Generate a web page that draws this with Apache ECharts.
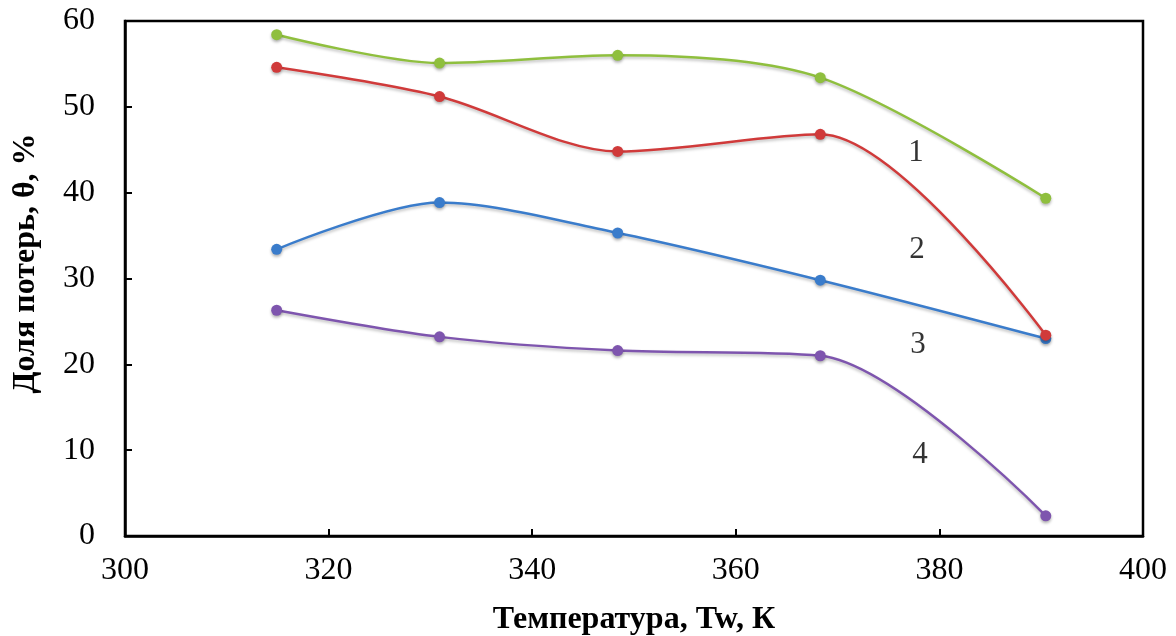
<!DOCTYPE html>
<html>
<head>
<meta charset="utf-8">
<script src="https://cdn.jsdelivr.net/npm/echarts@6/dist/echarts.min.js"></script>
<style>
html,body{margin:0;padding:0;background:#fff;}
#c{width:1176px;height:636px;}
</style>
</head>
<body>
<div id="c"></div>
<script>
// Temperature values (x) for each measured point
const temperatures = [314.9, 330.9, 348.4, 368.3, 390.45];
// Series values (loss share, %)
const curve1 = [58.4, 55.1, 56.0, 53.4, 39.35];
const curve2 = [54.6, 51.2, 44.8, 46.8, 23.4];
const curve3 = [33.4, 38.85, 35.3, 29.8, 23.0];
const curve4 = [26.3, 23.2, 21.6, 21.0, 2.35];
// Curve number annotations (data coordinates)
const curveLabels = ['1', '2', '3', '4'];
const curveLabelX = [377.7, 377.8, 377.9, 378.1];
const curveLabelY = [44.6, 33.3, 22.3, 9.4];
// Axis ticks
const xTicks = [300, 320, 340, 360, 380, 400];
const yTicks = [0, 10, 20, 30, 40, 50, 60];

const colors = ['#8FBF3E', '#D03A3A', '#3A7CCB', '#7E55AE'];
const seriesValues = [curve1, curve2, curve3, curve4];
const FONT = '"Liberation Serif", "Times New Roman", serif';

const chart = echarts.init(document.getElementById('c'));

const lineSeries = seriesValues.map((vals, i) => ({
  type: 'line',
  name: curveLabels[i],
  data: vals.map((v, j) => [temperatures[j], v]),
  smooth: 0.3,
  symbol: 'circle',
  symbolSize: 11,
  showSymbol: true,
  lineStyle: {color: colors[i], width: 2.5, shadowColor: 'rgba(0,0,0,0.25)', shadowBlur: 3, shadowOffsetY: 2},
  itemStyle: {color: colors[i], shadowColor: 'rgba(0,0,0,0.3)', shadowBlur: 3, shadowOffsetY: 2},
  z: 3 + (i === 1 ? 1 : 0)
}));

const labelSeries = {
  type: 'scatter',
  data: curveLabels.map((t, i) => ({value: [curveLabelX[i], curveLabelY[i]], name: t})),
  symbolSize: 0,
  label: {
    show: true,
    position: 'inside',
    formatter: p => p.name,
    fontFamily: FONT,
    fontSize: 31,
    color: '#000'
  },
  silent: true
};

chart.setOption({
  animation: false,
  backgroundColor: '#fff',
  grid: {left: 125, top: 21, right: 33, bottom: 100, containLabel: false, outerBoundsMode: 'none',
         show: true, borderColor: '#000', borderWidth: 2.5, backgroundColor: 'transparent'},
  xAxis: {
    type: 'value',
    min: xTicks[0], max: xTicks[xTicks.length - 1], interval: 20,
    name: 'Температура, Tw, К',
    nameLocation: 'middle',
    nameGap: 68,
    nameTextStyle: {fontFamily: FONT, fontSize: 32, fontWeight: 'bold', color: '#000'},
    axisLine: {show: true, lineStyle: {color: '#000', width: 2.5}},
    axisTick: {show: true, inside: true, length: 7, lineStyle: {color: '#000', width: 2}},
    axisLabel: {fontFamily: FONT, fontSize: 32, color: '#000', margin: 19},
    splitLine: {show: false}
  },
  yAxis: {
    type: 'value',
    min: yTicks[0], max: yTicks[yTicks.length - 1], interval: 10,
    name: 'Доля потерь, θ, %',
    nameLocation: 'middle',
    nameGap: 83,
    nameTextStyle: {fontFamily: FONT, fontSize: 32, fontWeight: 'bold', color: '#000', padding: [0, 0, 0, 30]},
    axisLine: {show: true, lineStyle: {color: '#000', width: 2.5}},
    axisTick: {show: true, inside: true, length: 7, lineStyle: {color: '#000', width: 2}},
    axisLabel: {fontFamily: FONT, fontSize: 32, color: '#000', margin: 30},
    splitLine: {show: false}
  },
  series: [...lineSeries, labelSeries]
});
</script>
</body>
</html>
